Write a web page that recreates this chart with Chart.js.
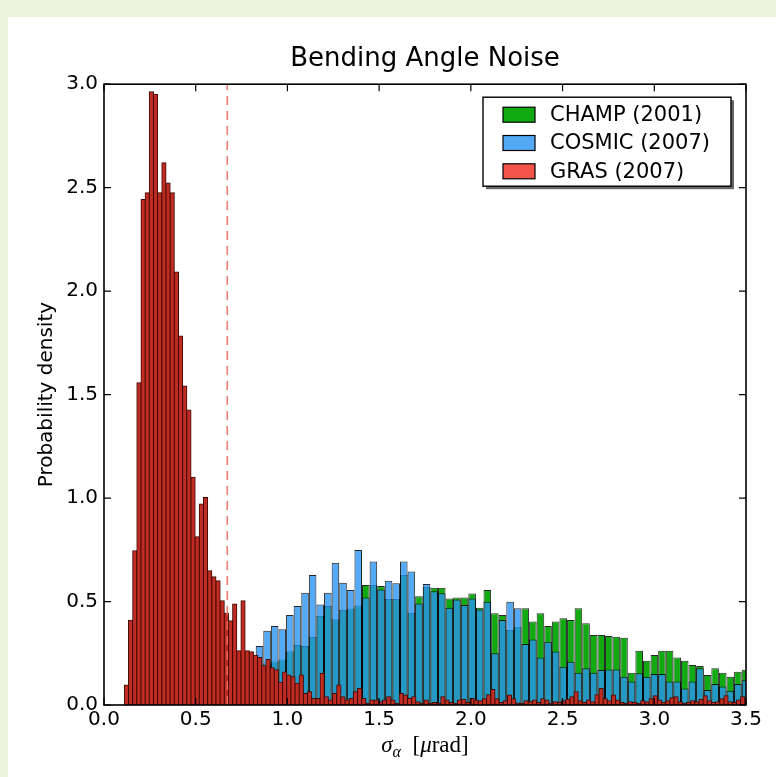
<!DOCTYPE html>
<html>
<head>
<meta charset="utf-8">
<script src="https://cdn.jsdelivr.net/npm/chart.js@4.4.1/dist/chart.umd.min.js"></script>
<style>
  html, body { margin: 0; padding: 0; background: #e8f4dc; }
  #marcoBlanco { position: absolute; left: 8px; top: 17px; width: 768px; height: 760px; background: #fff; }
  canvas { display: block; }
</style>
</head>
<body>
<div id="marcoBlanco"><canvas id="graficoRuido" width="768" height="760"></canvas></div>
<script>
// Histogramas (densidad de probabilidad)
const champ = [
  0.17, 0.20, 0.21, 0.22, 0.26, 0.29, 0.285, 0.329, 0.43, 0.478,
  0.414, 0.459, 0.466, 0.481, 0.58, 0.58, 0.575, 0.512, 0.512, 0.628,
  0.446, 0.526, 0.57, 0.567, 0.567, 0.515, 0.52, 0.52, 0.539, 0.47,
  0.556, 0.443, 0.435, 0.362, 0.378, 0.467, 0.403, 0.443, 0.382, 0.403,
  0.419, 0.411, 0.467, 0.395, 0.338, 0.338, 0.333, 0.33, 0.325, 0.156,
  0.262, 0.214, 0.242, 0.262, 0.262, 0.23, 0.214, 0.193, 0.188, 0.145,
  0.177, 0.156, 0.137, 0.161, 0.17
];
const cosmic = [
  0.285, 0.359, 0.382, 0.366, 0.435, 0.478, 0.543, 0.628, 0.486, 0.543,
  0.688, 0.591, 0.556, 0.749, 0.52, 0.693, 0.558, 0.60, 0.588, 0.693,
  0.645, 0.49, 0.585, 0.55, 0.54, 0.47, 0.51, 0.483, 0.515, 0.462,
  0.499, 0.25, 0.411, 0.499, 0.467, 0.295, 0.317, 0.23, 0.306, 0.258,
  0.185, 0.209, 0.156, 0.177, 0.156, 0.169, 0.172, 0.172, 0.137, 0.113,
  0.153, 0.137, 0.15, 0.15, 0.113, 0.113, 0.08, 0.113, 0.177, 0.072,
  0.101, 0.089, 0.069, 0.101, 0.12
];
const gras = [
  0.097, 0.41, 0.745, 1.557, 2.443, 2.475, 2.963, 2.952, 2.475, 2.62,
  2.523, 2.475, 2.093, 1.783, 1.541, 1.425, 1.10, 0.813, 0.971, 1.003,
  0.649, 0.62, 0.60, 0.504, 0.443, 0.407, 0.488, 0.262, 0.504, 0.262,
  0.257, 0.24, 0.23, 0.19, 0.22, 0.18, 0.17, 0.11, 0.16, 0.145,
  0.137, 0.105, 0.145, 0.056, 0.064, 0.032, 0.032, 0.153, 0.04, 0.024,
  0.056, 0.097, 0.04, 0.024, 0.032, 0.064, 0.08, 0.032, 0.008, 0.024,
  0.024, 0.016, 0.024, 0.04, 0.024, 0.008, 0.056, 0.048, 0.032, 0.04,
  0.016, 0.008, 0.024, 0.008, 0.012, 0.008, 0.04, 0.024, 0.012, 0.008,
  0.024, 0.028, 0.012, 0.032, 0.024, 0.02, 0.03, 0.05, 0.075, 0.03,
  0.012, 0.02, 0.048, 0.03, 0.01, 0.008, 0.02, 0.016, 0.024, 0.012,
  0.03, 0.024, 0.008, 0.016, 0.012, 0.02, 0.028, 0.04, 0.064, 0.02,
  0.012, 0.024, 0.016, 0.05, 0.08, 0.03, 0.02, 0.048, 0.024, 0.012,
  0.008, 0.016, 0.012, 0.008, 0.02, 0.016, 0.03, 0.045, 0.024, 0.012,
  0.02, 0.035, 0.04, 0.016, 0.008, 0.012, 0.02, 0.016, 0.028, 0.045,
  0.02, 0.012, 0.016, 0.03, 0.045, 0.016, 0.012, 0.024, 0.04
];
const etiquetas = ['CHAMP (2001)', 'COSMIC (2007)', 'GRAS (2007)'];
const ticksX = [0, 0.5, 1.0, 1.5, 2.0, 2.5, 3.0, 3.5];
const ticksY = [0, 0.5, 1.0, 1.5, 2.0, 2.5, 3.0];

// bins: CHAMP/COSMIC comparten bins, GRAS tiene bins mas finos
const binAnchoInicio = 0.827, binAnchoPaso = 0.0414;
const binGrasInicio = 0.111, binGrasPaso = 0.0227;
const umbral = 0.672; // linea discontinua

const centrosAncho = champ.map((_, j) => binAnchoInicio + binAnchoPaso * (j + 0.5));
const centrosGras = gras.map((_, i) => binGrasInicio + binGrasPaso * (i + 0.5));
const aPuntos = (valores, centros) => valores.map((v, k) => ({ x: centros[k], y: v }));

const fuente = 'DejaVu Sans';
Chart.defaults.font.family = fuente;
Chart.defaults.color = '#000';

// marco negro y ticks hacia dentro en los cuatro lados
const marco = {
  id: 'marco',
  afterDatasetsDraw(chart) {
    const { ctx, chartArea: a, scales: { x, y } } = chart;
    const largo = 7;
    ctx.save();
    ctx.strokeStyle = '#000';
    ctx.lineWidth = 1.2;
    ctx.beginPath();
    ticksX.forEach(v => {
      const px = x.getPixelForValue(v);
      ctx.moveTo(px, a.bottom); ctx.lineTo(px, a.bottom - largo);
      ctx.moveTo(px, a.top); ctx.lineTo(px, a.top + largo);
    });
    ticksY.forEach(v => {
      const py = y.getPixelForValue(v);
      ctx.moveTo(a.left, py); ctx.lineTo(a.left + largo, py);
      ctx.moveTo(a.right, py); ctx.lineTo(a.right - largo, py);
    });
    ctx.stroke();
    ctx.lineWidth = 1.6;
    ctx.strokeRect(a.left, a.top, a.right - a.left, a.bottom - a.top);
    ctx.restore();
  }
};

// etiqueta del eje x con formato matematico
const etiquetaX = {
  id: 'etiquetaX',
  afterDraw(chart) {
    const { ctx, chartArea: a } = chart;
    const serif = '"Liberation Serif", "DejaVu Serif", serif';
    const partes = [
      { t: 'σ', f: `italic 23px ${serif}`, dy: 0 },
      { t: 'α', f: `italic 16px ${serif}`, dy: 5 },
      { t: '  [', f: `23px ${serif}`, dy: 0 },
      { t: 'μ', f: `italic 23px ${serif}`, dy: 0 },
      { t: 'rad]', f: `23px ${serif}`, dy: 0 }
    ];
    ctx.save();
    let total = 0;
    partes.forEach(p => { ctx.font = p.f; p.w = ctx.measureText(p.t).width; total += p.w; });
    let x = (a.left + a.right) / 2 - total / 2;
    const base = a.bottom + 47;
    ctx.fillStyle = '#000';
    ctx.textBaseline = 'alphabetic';
    partes.forEach(p => {
      ctx.font = p.f;
      ctx.fillText(p.t, x, base + p.dy);
      x += p.w;
    });
    ctx.restore();
  }
};

// leyenda con sombra dentro del area
const leyenda = {
  id: 'leyenda',
  afterDraw(chart) {
    const { ctx, chartArea: a } = chart;
    const w = 248, h = 89;
    const x0 = a.right - 15 - w, y0 = a.top + 13;
    ctx.save();
    ctx.fillStyle = 'rgba(0,0,0,0.6)';
    ctx.fillRect(x0 + 3, y0 + 3, w, h);
    ctx.fillStyle = '#fff';
    ctx.fillRect(x0, y0, w, h);
    ctx.strokeStyle = '#000';
    ctx.lineWidth = 1.4;
    ctx.strokeRect(x0, y0, w, h);
    chart.data.datasets.filter(d => d.enLeyenda).forEach((d, k) => {
      const cy = y0 + 17.5 + k * 28.3;
      ctx.fillStyle = d.colorLeyenda || d.backgroundColor;
      ctx.fillRect(x0 + 20, cy - 7.5, 32, 15);
      ctx.lineWidth = 1.2;
      ctx.strokeRect(x0 + 20, cy - 7.5, 32, 15);
      ctx.fillStyle = '#000';
      ctx.font = `21px "${fuente}"`;
      ctx.textBaseline = 'middle';
      ctx.fillText(d.label, x0 + 67, cy + 1);
    });
    ctx.restore();
  }
};

const estiloBarra = {
  borderColor: 'rgba(0,0,0,0.85)',
  borderWidth: 1,
  borderSkipped: 'start',
  inflateAmount: 0,
  barPercentage: 1,
  categoryPercentage: 1,
  grouped: false
};

const ctx = document.getElementById('graficoRuido').getContext('2d');
new Chart(ctx, {
  type: 'bar',
  data: {
    datasets: [
      { ...estiloBarra, label: etiquetas[0], enLeyenda: true, order: 3, xAxisID: 'x',
        data: aPuntos(champ, centrosAncho), backgroundColor: 'rgb(18,170,18)' },
      { ...estiloBarra, label: etiquetas[1], enLeyenda: true, order: 2, xAxisID: 'x',
        data: aPuntos(cosmic, centrosAncho), backgroundColor: 'rgba(42,149,243,0.8)' },
      { ...estiloBarra, label: etiquetas[2], enLeyenda: true, order: 1, xAxisID: 'xr',
        data: aPuntos(gras, centrosGras), backgroundColor: 'rgb(192,44,34)',
        borderColor: 'rgb(62,10,6)', inflateAmount: 0.5, colorLeyenda: 'rgb(242,84,74)' },
      { type: 'line', label: 'umbral', order: 0, xAxisID: 'x',
        data: [{ x: umbral, y: 0 }, { x: umbral, y: 3 }],
        borderColor: 'rgba(235,110,100,0.9)', borderWidth: 1.6, borderDash: [9, 6],
        pointRadius: 0, fill: false }
    ]
  },
  options: {
    responsive: false,
    animation: false,
    devicePixelRatio: 1,
    layout: { padding: { left: 0, right: 30, top: 0, bottom: 0 } },
    plugins: {
      legend: { display: false },
      tooltip: { enabled: false },
      title: {
        display: true,
        text: 'Bending Angle Noise',
        fullSize: false,
        font: { size: 26, weight: 'normal', lineHeight: 1.2 },
        padding: { top: 27, bottom: 9 }
      }
    },
    scales: {
      x: {
        type: 'linear', min: 0, max: 3.5, offset: false,
        grid: { display: false, drawTicks: false, offset: false },
        border: { display: false },
        ticks: { stepSize: 0.5, autoSkip: false, maxRotation: 0, padding: 3,
                 font: { size: 20 }, callback: v => v.toFixed(1) },
        afterFit: s => { s.height = 72; }
      },
      xr: {
        type: 'linear', min: 0, max: 3.5, offset: false, display: false,
        grid: { offset: false }
      },
      y: {
        type: 'linear', min: 0, max: 3,
        grid: { display: false, drawTicks: false },
        border: { display: false },
        ticks: { stepSize: 0.5, padding: 6, font: { size: 20 }, callback: v => v.toFixed(1) },
        title: { display: true, text: 'Probability density', font: { size: 20 }, padding: { top: 27, bottom: 0 } },
        afterFit: s => { s.width = 96; }
      }
    }
  },
  plugins: [marco, etiquetaX, leyenda]
});
</script>
</body>
</html>
